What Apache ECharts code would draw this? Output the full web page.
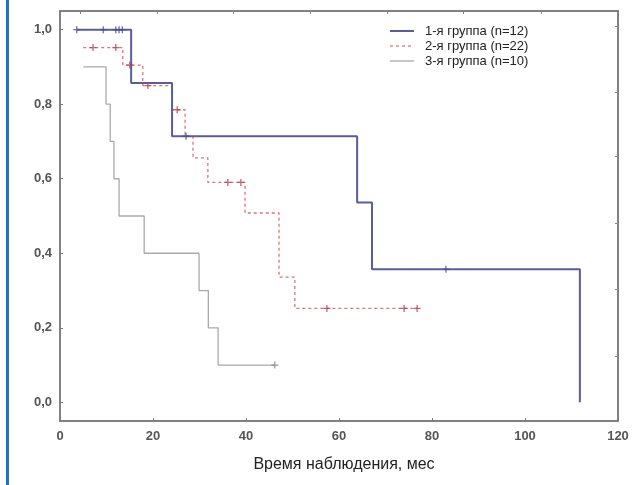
<!DOCTYPE html>
<html>
<head>
<meta charset="utf-8">
<script src="https://cdn.jsdelivr.net/npm/echarts@6/dist/echarts.min.js"></script>
<style>
html,body{margin:0;padding:0;background:#fff;}
#c{width:638px;height:485px;}
</style>
</head>
<body>
<div id="c"></div>
<script>
// ---- data ----
var seriesNames = ['1-я группа (n=12)', '2-я группа (n=22)', '3-я группа (n=10)'];
var xTicks = [0, 20, 40, 60, 80, 100, 120];
var yTicks = [0, 0.2, 0.4, 0.6, 0.8, 1.0];

var g1Time = [3.6, 15.3, 24.1, 63.9, 67.1, 111.8];
var g1Surv = [1.0, 0.857, 0.714, 0.536, 0.357, 0.0];
var g1CensTime = [3.6, 9.3, 12.0, 12.7, 13.4, 27.1, 83.0];
var g1CensSurv = [1.0, 1.0, 1.0, 1.0, 1.0, 0.714, 0.357];

var g2Time = [5.0, 13.5, 17.8, 24.1, 26.9, 28.6, 31.8, 39.8, 47.1, 50.5, 77.0];
var g2Surv = [0.952, 0.905, 0.850, 0.785, 0.714, 0.656, 0.590, 0.508, 0.336, 0.252, 0.252];
var g2CensTime = [7.1, 12.0, 15.0, 18.9, 25.2, 36.1, 38.9, 57.4, 74.0, 76.8];
var g2CensSurv = [0.952, 0.952, 0.905, 0.850, 0.785, 0.590, 0.590, 0.252, 0.252, 0.252];

var g3Time = [5.0, 9.9, 10.8, 11.6, 12.7, 18.1, 29.9, 31.9, 34.0, 46.2];
var g3Surv = [0.90, 0.80, 0.70, 0.60, 0.50, 0.40, 0.30, 0.20, 0.10, 0.10];
var g3CensTime = [46.2];
var g3CensSurv = [0.10];

// decorative frame ticks (top / right) seen in the picture
var topTicks = [4.3, 20.9, 37.2, 53.8, 70.3, 86.7, 103.4];
var rightTicks = [0.124, 0.304, 0.481, 0.659, 0.833, 1.008];

function zip(a, b) { return a.map(function (v, i) { return [v, b[i]]; }); }

var colors = ['#5a5c9e', '#e0707c', '#a9a9a9'];
var censColors = ['#4a4c8a', '#b04050', '#808080'];
var lineWidths = [2, 1.3, 1.3];
var lineTypes = ['solid', [3, 3], 'solid'];

var plus = 'path://M5,0 L5,10 M0,5 L10,5';
var font = 'Liberation Sans, Arial, sans-serif';

function censSeries(name, t, s, col) {
  return {
    type: 'scatter', name: name + '_c', data: zip(t, s),
    symbol: plus, symbolSize: 7, silent: true,
    itemStyle: { color: 'transparent', borderColor: col, borderWidth: 1.3 },
    z: 5
  };
}

// legend drawn as graphic elements (line sample + real text)
var legendGraphics = [];
seriesNames.forEach(function (n, i) {
  var y = 31 + i * 15;
  legendGraphics.push({
    type: 'line', silent: true,
    shape: { x1: 390, y1: y, x2: 414, y2: y },
    style: { stroke: colors[i], lineWidth: lineWidths[i], lineDash: lineTypes[i] === 'solid' ? null : lineTypes[i] }
  });
  legendGraphics.push({
    type: 'text', silent: true, x: 425, y: y,
    style: { text: n, fill: '#222', font: '13px ' + font, verticalAlign: 'middle', align: 'left' }
  });
});

var chart = echarts.init(document.getElementById('c'), null, { renderer: 'canvas' });
var labelStyle = { color: '#555', fontSize: 13, fontWeight: 'bold', fontFamily: font };

chart.setOption({
  animation: false,
  backgroundColor: '#fff',
  grid: { left: 60, top: 11, right: 20, bottom: 64, show: true, borderColor: '#7a7a7a', borderWidth: 1.5 },
  graphic: [{
    type: 'rect', shape: { x: 6, y: 0, width: 3, height: 485 },
    style: { fill: '#1f6fc2' }, silent: true
  }].concat(legendGraphics),
  xAxis: [{
    type: 'value', min: 0, max: 120, interval: 20,
    name: 'Время наблюдения, мес', nameLocation: 'middle', nameGap: 36,
    nameTextStyle: { fontSize: 16, color: '#222', fontFamily: font, padding: [0, 0, 0, 10] },
    axisLine: { onZero: false, lineStyle: { color: '#7a7a7a', width: 1.5 } },
    axisTick: { inside: true, length: 3, lineStyle: { color: '#7a7a7a' } },
    axisLabel: Object.assign({ margin: 9, customValues: xTicks }, labelStyle),
    splitLine: { show: false }
  }, {
    type: 'value', min: 0, max: 120, position: 'top',
    axisLine: { show: true, onZero: false, lineStyle: { color: '#7a7a7a', width: 1.5 } },
    axisTick: { show: true, inside: true, length: 3, customValues: topTicks, lineStyle: { color: '#8a8a8a' } },
    axisLabel: { show: false }, splitLine: { show: false }
  }],
  yAxis: [{
    type: 'value', min: -0.05, max: 1.05,
    axisLine: { show: true, onZero: false, lineStyle: { color: '#7a7a7a', width: 1.5 } },
    axisTick: { show: true, inside: true, length: 3, customValues: yTicks, lineStyle: { color: '#7a7a7a' } },
    axisLabel: Object.assign({ margin: 8, customValues: yTicks, formatter: function (v) { return v.toFixed(1).replace('.', ','); } }, labelStyle),
    splitLine: { show: false }
  }, {
    type: 'value', min: -0.05, max: 1.05, position: 'right',
    axisLine: { show: true, onZero: false, lineStyle: { color: '#7a7a7a', width: 1.5 } },
    axisTick: { show: true, inside: true, length: 3, customValues: rightTicks, lineStyle: { color: '#8a8a8a' } },
    axisLabel: { show: false }, splitLine: { show: false }
  }],
  series: [
    { type: 'line', name: seriesNames[0], step: 'end', data: zip(g1Time, g1Surv), showSymbol: false, symbol: 'none',
      lineStyle: { color: colors[0], width: lineWidths[0], type: lineTypes[0] }, z: 4 },
    { type: 'line', name: seriesNames[1], step: 'end', data: zip(g2Time, g2Surv), showSymbol: false, symbol: 'none',
      lineStyle: { color: colors[1], width: lineWidths[1], type: lineTypes[1] }, z: 3 },
    { type: 'line', name: seriesNames[2], step: 'end', data: zip(g3Time, g3Surv), showSymbol: false, symbol: 'none',
      lineStyle: { color: colors[2], width: lineWidths[2], type: lineTypes[2] }, z: 3 },
    censSeries(seriesNames[0], g1CensTime, g1CensSurv, censColors[0]),
    censSeries(seriesNames[1], g2CensTime, g2CensSurv, censColors[1]),
    censSeries(seriesNames[2], g3CensTime, g3CensSurv, censColors[2])
  ]
});
</script>
</body>
</html>
